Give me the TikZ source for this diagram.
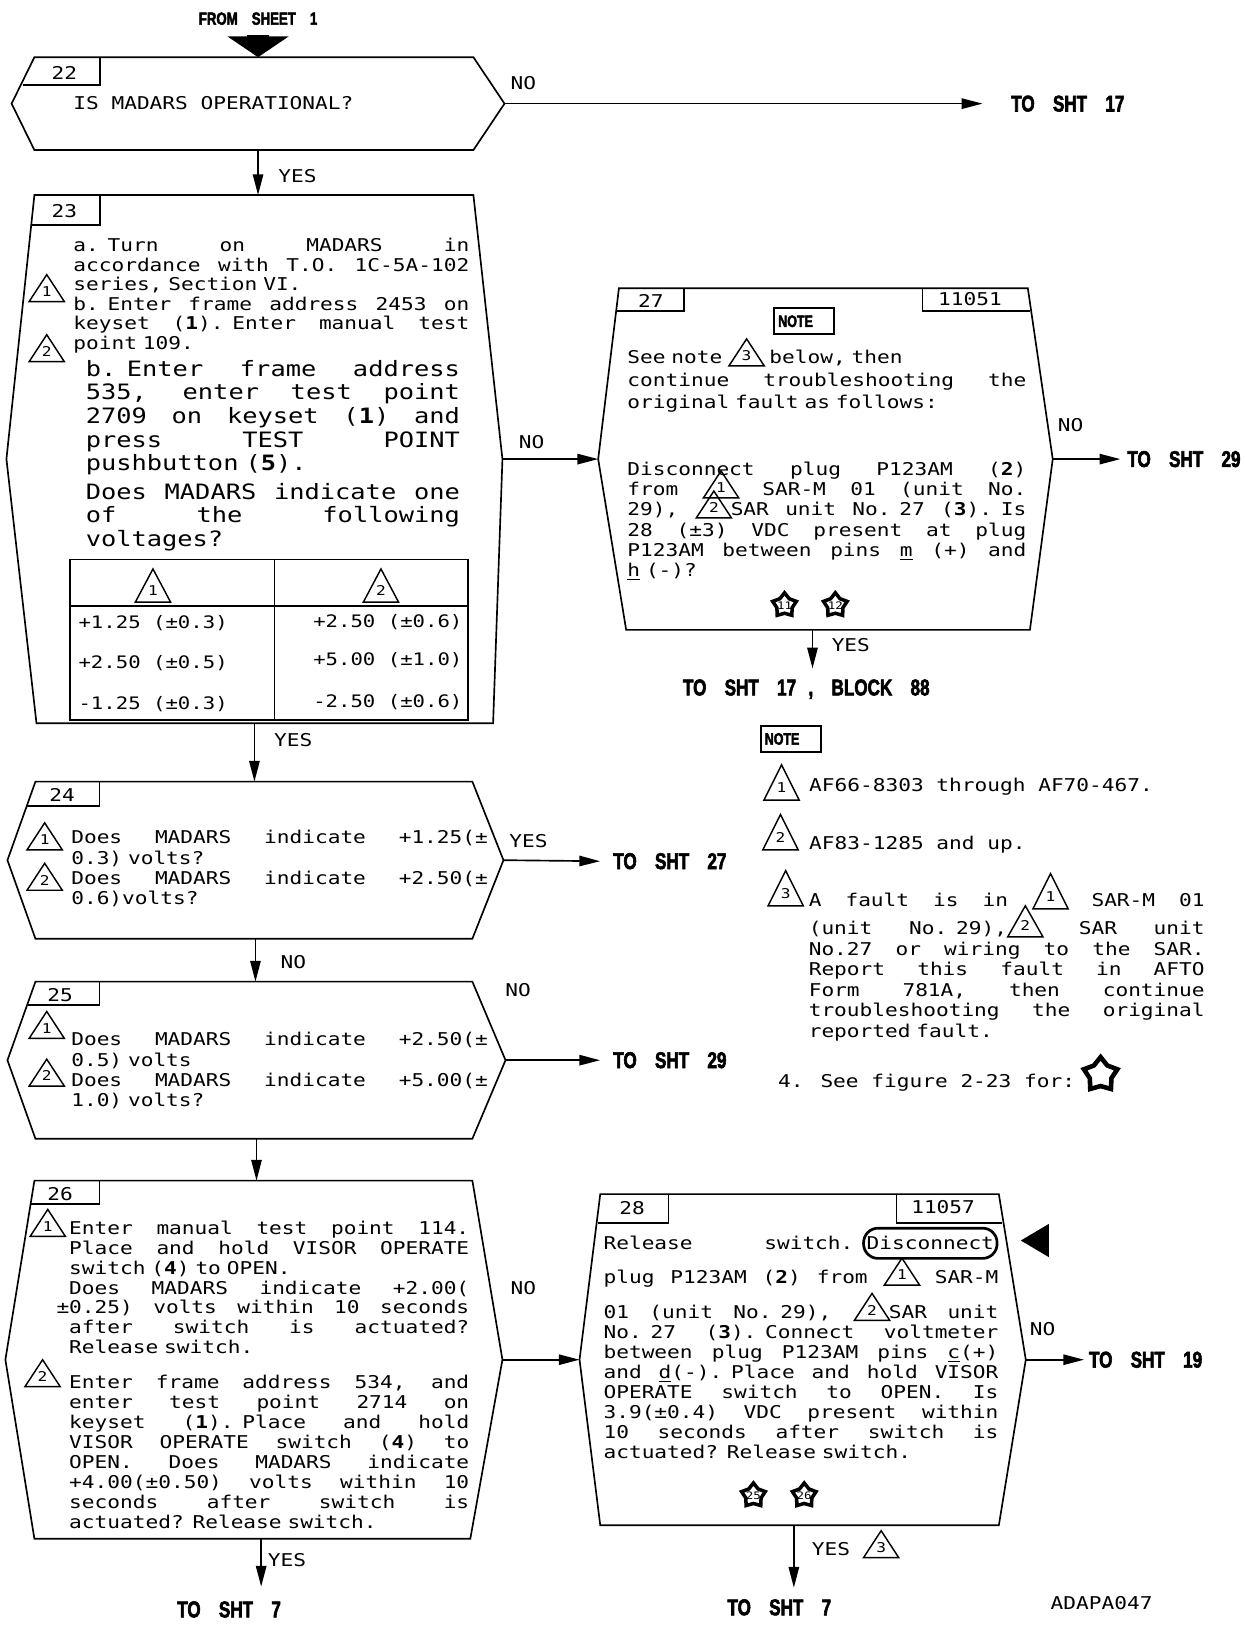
\documentclass[tikz,border=0pt]{standalone}
\usepackage{fontspec}
\usetikzlibrary{arrows.meta, calc, fit, shapes.geometric}

\newfontfamily\plotfont[FakeStretch=1.2]{DejaVu Sans Mono}
\newfontfamily\heavyfont[FakeStretch=0.75, FakeBold=2.5]{Liberation Sans}
\newcommand\pf[2]{\plotfont\fontsize{#1}{#2}\selectfont\lineskiplimit=-30pt\relax}
\newcommand\hv[1]{\heavyfont\bfseries\fontsize{#1}{#1}\selectfont\spaceskip=.8em\relax}
% one justified line
\newcommand\jl[1]{\makebox[\linewidth][s]{\spaceskip=\fontdimen2\font plus 1fil minus .15\fontdimen2\font\relax#1}}
% numbered triangle
\newcommand\tri[2][13pt]{\makebox[17pt][l]{\smash{\tikz[baseline=0pt]{\draw[line width=.7pt] (0pt,-1pt) -- (8.5pt,#1-1pt) -- (17pt,-1pt) -- cycle; \node[anchor=center, inner sep=0pt, font=\pf{6.5}{7}] (trin) at (8.5pt,.3*#1) {#2};}}}}
\newcommand\disc[1]{\tikz[baseline=(dcn.base)]\node[draw, line width=1.3pt, rounded corners=7pt, inner xsep=1.5pt, inner ysep=4pt] (dcn) {#1};}
% hexagon outline round a block node: node, insets top left, top right, bottom left, bottom right
\newcommand\hexblk[5]{\draw[line width=.8pt] (#1.west) -- ($(#1.north west)+(#2,0)$) -- ($(#1.north east)+(-#3,0)$) -- (#1.east) -- ($(#1.south east)+(-#5,0)$) -- ($(#1.south west)+(#4,0)$) -- cycle;}

\begin{document}
\begin{tikzpicture}[x=0.5pt, y=-0.5pt, line width=0.8pt, >={Triangle[length=10pt,width=5pt]},
  blk/.style={inner sep=0pt},
  txt/.style={inner sep=0pt, anchor=base west, align=left},
  lbl/.style={inner sep=0pt, font=\pf{8.5}{9}},
  cell/.style={inner sep=0pt, font=\pf{8.3}{9}},
  sht/.style={inner sep=0pt, font=\hv{11}},
  mk/.style={inner sep=0pt, anchor=base west},
  starmk/.style={star, star points=5, star point ratio=1.55, draw, line width=1.7pt, minimum size=12pt, inner sep=0pt},
  starnum/.style={inner sep=0pt, font=\pf{5}{5}},
  notebox/.style={draw, line width=0.9pt, inner xsep=2pt, inner ysep=0pt, text width=25pt, minimum height=12.5pt, font=\hv{8}, align=left}]
  \fill[white] (0,0) rectangle (1201,1568);
  \useasboundingbox (0,0) rectangle (1201,1568);

  % blocks
  \node[blk, fit={(12,56) (486,144)}] (b22) {};
  \node[blk, fit={(7,189) (484,697)}] (b23) {};
  \node[blk, fit={(8,755) (485,905)}] (b24) {};
  \node[blk, fit={(8,948) (487,1098)}] (b25) {};
  \node[blk, fit={(6,1140) (484,1484)}] (b26) {};
  \node[blk, fit={(578,279) (1015,607)}] (b27) {};
  \node[blk, fit={(560,1153) (989,1471)}] (b28) {};
  \hexblk{b22}{22}{30}{22}{30}
  \hexblk{b23}{27}{28}{29}{9}
  \hexblk{b24}{27}{30}{27}{30}
  \hexblk{b25}{27}{32}{27}{32}
  \hexblk{b26}{28}{29}{28}{31}
  \hexblk{b27}{20}{24}{27}{22}
  \hexblk{b28}{20}{26}{20}{26}

  % number boxes
  \draw (22,82) -| (96.5,56);
  \node[lbl] (n22) at (62,70) {22};
  \draw (31,217) -| (96.5,189);
  \node[lbl] (n23) at (62,204) {23};
  \draw (26,778) -| (96,755);
  \node[lbl] (n24) at (60,767) {24};
  \draw (27,970) -| (96,948);
  \node[lbl] (n25) at (58,960) {25};
  \draw (30,1162) -| (96,1140);
  \node[lbl] (n26) at (58,1152) {26};
  \draw (595,300) -| (660,279);
  \node[lbl] (n27) at (628,290) {27};
  \draw (890,279) |- (994,300);
  \node[lbl] (n27r) at (936,289) {11051};
  \draw (577,1180) -| (645,1153);
  \node[lbl] (n28) at (610,1166) {28};
  \draw (865,1153) |- (967,1180);
  \node[lbl] (n28r) at (910,1165) {11057};

  % block texts
  \node[txt, font={\pf{8.5}{9}}] (t22) at (70,106) {IS MADARS OPERATIONAL?};
  \node[txt, text width=191pt, font={\pf{8.5}{9.4}}] (t23a) at (70,243) {%
    \jl{a. Turn on MADARS in}\\
    \jl{accordance with T.O. 1C-5A-102}\\
    series, Section VI.\\
    \jl{b. Enter frame address 2453 on}\\
    \jl{keyset (\textbf{1}). Enter manual test}\\
    point 109.};
  \node[txt, text width=180.5pt, font={\pf{10.2}{11.4}}] (t23b) at (82,363) {%
    \jl{b. Enter frame address}\\
    \jl{535, enter test point}\\
    \jl{2709 on keyset (\textbf{1}) and}\\
    \jl{press TEST POINT}\\
    pushbutton (\textbf{5}).};
  \node[txt, text width=180.5pt, font={\pf{10.2}{11.3}}] (t23c) at (82,482) {%
    \jl{Does MADARS indicate one}\\
    \jl{of the following}\\
    voltages?};
  \node[mk] (m23a) at (27,289) {\tri{1}};
  \node[mk] (m23b) at (27,347) {\tri{2}};

  % voltage table
  \draw (67.5,540) rectangle (451.5,695);
  \draw (67.5,585) -- (451.5,585);
  \draw (265,540) -- (265,695);
  \node[mk] (h1) at (129.5,579) {\tri[16pt]{1}};
  \node[mk] (h2) at (349.5,579) {\tri[16pt]{2}};
  \node[cell, anchor=west] (c11) at (75,601) {+1.25 (±0.3)};
  \node[cell, anchor=west] (c21) at (75,640) {+2.50 (±0.5)};
  \node[cell, anchor=west] (c31) at (75,679) {-1.25 (±0.3)};
  \node[cell, anchor=east] (c12) at (447,600) {+2.50 (±0.6)};
  \node[cell, anchor=east] (c22) at (447,637) {+5.00 (±1.0)};
  \node[cell, anchor=east] (c32) at (447,677) {-2.50 (±0.6)};

  \node[txt, text width=201pt, font={\pf{8.5}{9.85}}] (t24) at (68,814) {%
    \jl{Does MADARS indicate +1.25(±}\\
    0.3) volts?\\
    \jl{Does MADARS indicate +2.50(±}\\
    0.6)volts?};
  \node[mk] (m24a) at (25,818) {\tri{1}};
  \node[mk] (m24b) at (25,857) {\tri{2}};

  \node[txt, text width=201pt, font={\pf{8.5}{9.8}}] (t25) at (68,1009) {%
    \jl{Does MADARS indicate +2.50(±}\\
    0.5) volts\\
    \jl{Does MADARS indicate +5.00(±}\\
    1.0) volts?};
  \node[mk] (m25a) at (27,1000) {\tri{1}};
  \node[mk] (m25b) at (27,1046) {\tri{2}};

  \node[txt, text width=193pt, font={\pf{8.5}{9.6}}] (t26a) at (66,1191) {%
    \jl{Enter manual test point 114.}\\
    \jl{Place and hold VISOR OPERATE}\\
    switch (\textbf{4}) to OPEN.\\
    \jl{Does MADARS indicate +2.00(}\\
    \jl{\llap{±}0.25) volts within 10 seconds}\\
    \jl{after switch is actuated?}\\
    Release switch.};
  \node[txt, text width=193pt, font={\pf{8.5}{9.65}}] (t26b) at (66,1340) {%
    \jl{Enter frame address 534, and}\\
    \jl{enter test point 2714 on}\\
    \jl{keyset (\textbf{1}). Place and hold}\\
    \jl{VISOR OPERATE switch (\textbf{4}) to}\\
    \jl{OPEN. Does MADARS indicate}\\
    \jl{+4.00(±0.50) volts within 10}\\
    \jl{seconds after switch is}\\
    actuated? Release switch.};
  \node[mk] (m26a) at (28,1191) {\tri{1}};
  \node[mk] (m26b) at (23,1336) {\tri{2}};

  \node[notebox] (note27) at (776,310) {NOTE};
  \node[txt, text width=192.5pt, font={\pf{8.5}{10.75}}] (t27a) at (605,351) {%
    See note \tri{3} below, then\\
    \jl{continue troubleshooting the}\\
    original fault as follows:};
  \node[txt, text width=192.5pt, font={\pf{8.5}{9.7}}] (t27b) at (605,459) {%
    \jl{Disconnect plug P123AM (\textbf{2})}\\
    \jl{from \tri{1} SAR-M 01 (unit No.}\\
    \jl{29), \tri{2}SAR unit No. 27 (\textbf{3}). Is}\\
    \jl{28 (±3) VDC present at plug}\\
    \jl{P123AM between pins \underline{m} (+) and}\\
    \underline{h} (-)?};
  \node[starmk, label={[starnum]center:11}] (s11) at (757,584) {};
  \node[starmk, label={[starnum]center:12}] (s12) at (806,584) {};

  \node[txt, text width=190.5pt, font={\pf{8.5}{9.7}}] (t28) at (582,1206) {%
    \jl{Release switch. \disc{Disconnect}}\\[6.3pt]
    \jl{plug P123AM (\textbf{2}) from \tri{1} SAR-M}\\[7.3pt]
    \jl{01 (unit No. 29), \tri{2}SAR unit}\\
    \jl{No. 27 (\textbf{3}). Connect voltmeter}\\
    \jl{between plug P123AM pins \underline{c}(+)}\\
    \jl{and \underline{d}(-). Place and hold VISOR}\\
    \jl{OPERATE switch to OPEN. Is}\\
    \jl{3.9(±0.4) VDC present within}\\
    \jl{10 seconds after switch is}\\
    actuated? Release switch.};
  \fill (985,1197) -- (1012,1181) -- (1012,1213) -- cycle;
  \node[starmk, label={[starnum]center:25}] (s25) at (727,1443) {};
  \node[starmk, label={[starnum]center:26}] (s26) at (776,1443) {};

  % notes
  \node[notebox] (note) at (763,713) {NOTE};
  \node[mk] (nm1) at (736,770) {\tri[17pt]{1}};
  \node[txt, font={\pf{8.5}{9}}] (nt1) at (780,764) {AF66-8303 through AF70-467.};
  \node[mk] (nm2) at (735,818) {\tri[17pt]{2}};
  \node[txt, font={\pf{8.5}{9}}] (nt2) at (780,820) {AF83-1285 and up.};
  \node[mk] (nm3) at (740,872) {\tri[17pt]{3}};
  \node[txt, text width=191pt, font={\pf{8.5}{9.9}}] (nt3) at (780,875) {%
    \jl{A fault is in \tri[17pt]{1} SAR-M 01}\\[3.6pt]
    \jl{(unit No. 29),\tri[15pt]{2} SAR unit}\\
    \jl{No.27 or wiring to the SAR.}\\
    \jl{Report this fault in AFTO}\\
    \jl{Form 781A, then continue}\\
    \jl{troubleshooting the original}\\
    reported fault.};
  \node[txt, font={\pf{8.5}{9}}] (nt4) at (750,1049) {4. See figure 2-23 for:};
  \node[starmk, minimum size=17pt, line width=2.2pt] (s4) at (1062,1037) {};

  % off-sheet references
  \node[inner sep=0pt, font=\hv{8.5}] (from1) at (249,18) {FROM SHEET 1};
  \node[sht, anchor=west] (to17a) at (975,100) {TO SHT 17};
  \node[sht, anchor=west] (to27) at (591,831) {TO SHT 27};
  \node[sht, anchor=west] (to29a) at (591,1023) {TO SHT 29};
  \node[sht, anchor=west] (to29b) at (1087,443) {TO SHT 29};
  \node[sht] (to17b) at (778,665) {TO SHT 17\hspace{6pt}, BLOCK 88};
  \node[sht, anchor=west] (to19) at (1050,1312) {TO SHT 19};
  \node[sht] (to7a) at (221,1553) {TO SHT 7};
  \node[sht] (to7b) at (752,1551) {TO SHT 7};
  \node[lbl] (adapa) at (1063,1547) {ADAPA047};

  % branch labels
  \node[lbl] (no22) at (505,80) {NO};
  \node[lbl] (yes22) at (287,170) {YES};
  \node[lbl] (no23) at (513,427) {NO};
  \node[lbl] (yes23) at (283,714) {YES};
  \node[lbl] (yes24) at (510,812) {YES};
  \node[lbl] (no24) at (283,928) {NO};
  \node[lbl] (no25) at (500,955) {NO};
  \node[lbl] (no26) at (505,1243) {NO};
  \node[lbl] (yes26) at (277,1505) {YES};
  \node[lbl] (no27) at (1033,410) {NO};
  \node[lbl] (yes27) at (821,622) {YES};
  \node[lbl] (no28) at (1006,1282) {NO};
  \node[lbl, anchor=base west] (yes28) at (783,1501) {YES \tri{3}};

  % connectors
  \coordinate (y26) at (252,1531);
  \coordinate (y27) at (784,645);
  \coordinate (y28) at (766,1532);
  \draw[line width=11pt, -{Triangle[length=10pt,width=29pt]}, shorten <=4.5pt] (b22.north |- from1.south) -- (b22.north);
  \draw[->] (b22.east) -- ([xshift=-13.5pt]to17a.west);
  \draw[->] (b22.south) -- (b22.south |- b23.north);
  \draw[->] (b23.east) -- (b27.west);
  \draw[->] (b23.south) -- (b23.south |- b24.north);
  \draw[->] (b24.east) -- ([xshift=-6pt]to27.west);
  \draw[->] (b24.south) -- (b24.south |- b25.north);
  \draw[->] (b25.east) -- ([xshift=-6pt]to29a.west);
  \draw[->] (b25.south) -- (b25.south |- b26.north);
  \draw[->] (b26.east) -- (b28.west);
  \draw[->] (b26.south -| y26) -- (y26);
  \draw[->] (b27.east) -- ([xshift=-3pt]to29b.west);
  \draw[->] (b27.south -| y27) -- (y27);
  \draw[->] (b28.east) -- ([xshift=-2pt]to19.west);
  \draw[->] (b28.south -| y28) -- (y28);
\end{tikzpicture}
\end{document}
